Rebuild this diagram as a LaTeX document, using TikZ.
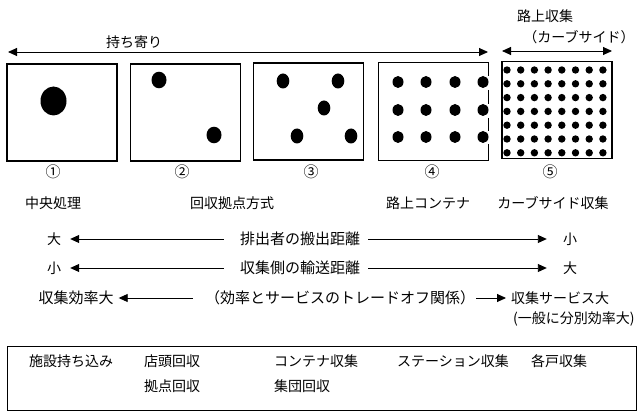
\documentclass[tikz,border=0pt]{standalone}
\usepackage{fontspec}
\setmainfont{Noto Sans CJK JP}
\usetikzlibrary{arrows.meta}
\begin{document}
\begin{tikzpicture}[x=1pt,y=-1pt,
  every node/.style={font=\fontsize{14}{16}\selectfont, inner sep=0pt},
  big/.style={font=\fontsize{15}{17}\selectfont},
  boxst/.style={draw, line width=1.3pt, minimum width=110pt, minimum height=97pt},
  arr/.style={line width=0.9pt, -{Triangle[length=9pt,width=8pt]}},
  arrb/.style={line width=0.9pt, {Triangle[length=9pt,width=8pt]}-{Triangle[length=9pt,width=8pt]}},
  dotst/.style={fill=black}]
\useasboundingbox (0,0) rectangle (642,414);

% top labels and arrows
\node (mochi) at (134,42) {持ち寄り};
\node (rojo) at (545,16) {路上収集};
\node (curb) at (579,37) {（カーブサイド）};
\coordinate (tl) at (8,52);
\coordinate (tr) at (488,52);
\coordinate (cl) at (502,51);
\coordinate (cr) at (612,51);
\draw[arrb] (tl) -- (tr);
\draw[arrb] (cl) -- (cr);

% boxes
\node[boxst] (b1) at (62,112.5) {};
\node[boxst] (b2) at (185.5,112.5) {};
\node[boxst] (b3) at (308.5,111.5) {};
\node[minimum width=110pt, minimum height=97pt] (b4) at (433.5,111.5) {};
\draw[line width=1.3pt] (b4.north east) -- (b4.north west) -- (b4.south west) -- (b4.south east);
\draw[line width=1.3pt] (b4.north east) -- ++(0,13);
\draw[line width=1.3pt] (b4.north east) ++(0,27) -- ++(0,14);
\draw[line width=1.3pt] (b4.north east) ++(0,55) -- ++(0,13);
\draw[line width=1.3pt] (b4.north east) ++(0,81) -- (b4.south east);
\node[boxst] (b5) at (557,110) {};

% dots
\fill[dotst] (53.5,101) ellipse (13 and 14.5);
\fill[dotst] (159,80) ellipse (7.5 and 8.3);
\fill[dotst] (214,135) ellipse (7.5 and 8.3);
\foreach \p in {(283,81),(338,81),(324,108),(297,136),(351,136)}
  \fill[dotst] \p ellipse (6.3 and 7.5);
\foreach \x in {398,426,455,483}
  \foreach \y in {82,110,137}
    \fill[dotst] (\x,\y) ellipse (5.5 and 6);
\foreach \i in {0,...,7}
  \foreach \j in {0,...,6}
    \fill[dotst] (507+13.7*\i,70+13.8*\j) circle (3.7);

% numbers
\node[big] (n1) at (53,172) {①};
\node[big] (n2) at (182,172) {②};
\node[big] (n3) at (311,172) {③};
\node[big] (n4) at (432,172) {④};
\node[big] (n5) at (550,172) {⑤};

% type labels
\node (l1) at (53,203) {中央処理};
\node (l2) at (232,203) {回収拠点方式};
\node (l3) at (428,203) {路上コンテナ};
\node (l4) at (553,203) {カーブサイド収集};

% row 1
\node (r1l) at (54,239) {大};
\node[big] (r1t) at (300,239) {排出者の搬出距離};
\node (r1r) at (570,239) {小};
\draw[arr, shorten <=16pt, shorten >=9pt] (r1t.west) -- (r1l.east);
\draw[arr, shorten <=8pt, shorten >=16pt] (r1t.east) -- (r1r.west);

% row 2
\node (r2l) at (54,268) {小};
\node[big] (r2t) at (300,268) {収集側の輸送距離};
\node (r2r) at (570,268) {大};
\draw[arr, shorten <=16pt, shorten >=9pt] (r2t.west) -- (r2l.east);
\draw[arr, shorten <=8pt, shorten >=16pt] (r2t.east) -- (r2r.west);

% row 3
\node[big] (r3l) at (76,298) {収集効率大};
\node[big] (r3t) at (340,298) {（効率とサービスのトレードオフ関係）};
\node[anchor=west] (r3r) at (511,298) {収集サービス大};
\node[anchor=west] (r3r2) at (513,319) {(一般に分別効率大)};
\draw[arr, shorten <=12pt, shorten >=5pt] (r3t.west) -- (r3l.east);
\draw[arr, shorten <=1pt, shorten >=5pt] (r3t.east) -- (r3r.west);

% bottom box
\node[draw, line width=1pt, minimum width=629pt, minimum height=64pt] (bb) at (321.5,378) {};
\node[anchor=west] (k1) at (29,361) {施設持ち込み};
\node[anchor=west] (k2) at (144,361) {店頭回収};
\node[anchor=west] (k3) at (274,361) {コンテナ収集};
\node[anchor=west] (k4) at (397,361) {ステーション収集};
\node[anchor=west] (k5) at (531,361) {各戸収集};
\node[anchor=west] (k6) at (144,386) {拠点回収};
\node[anchor=west] (k7) at (274,386) {集団回収};
\end{tikzpicture}
\end{document}
